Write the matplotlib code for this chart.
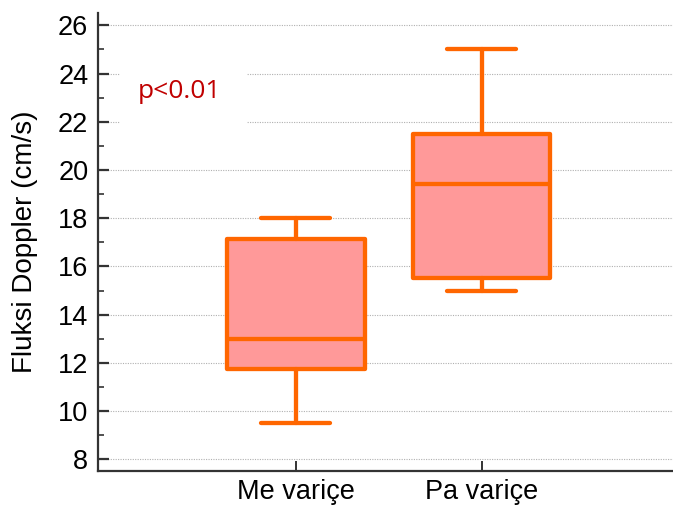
import matplotlib
matplotlib.use('Agg')
import matplotlib.pyplot as plt
from matplotlib.patches import Rectangle
from matplotlib.ticker import MultipleLocator

plt.rcParams['font.family'] = ['Liberation Sans', 'DejaVu Sans']

# 箱线图统计值
groups = ['Me variçe', 'Pa variçe']
whislo = [9.5, 15.0]
q1 = [11.75, 15.5]
med = [13.0, 19.4]
q3 = [17.15, 21.5]
whishi = [18.0, 25.0]

C_EDGE = '#ff6600'
C_FILL = '#ff9999'
C_AXIS = '#333333'

fig = plt.figure(figsize=(6.73, 5.12), dpi=100)
ax = fig.add_axes([98 / 673, 0.0807, 1 - 98 / 673, 0.9746 - 0.0807])

stats = [dict(label=g, whislo=lo, q1=a, med=m, q3=b, whishi=hi, fliers=[])
         for g, lo, a, m, b, hi in zip(groups, whislo, q1, med, q3, whishi)]

lw = 3.1
line = dict(color=C_EDGE, linewidth=lw, solid_capstyle='round')
ax.bxp(stats, positions=[1, 2], widths=0.74, capwidths=0.37, patch_artist=True,
       showfliers=False,
       boxprops=dict(facecolor=C_FILL, edgecolor=C_EDGE, linewidth=lw,
                     joinstyle='round'),
       medianprops=dict(color=C_EDGE, linewidth=lw),
       whiskerprops=line, capprops=line, zorder=2)

ax.set_xlim(-0.065, 3.03)
ax.set_ylim(7.53, 26.51)
ax.yaxis.set_major_locator(MultipleLocator(2))
ax.yaxis.set_minor_locator(MultipleLocator(1))
ax.set_xticks([1, 2])
ax.set_xticklabels(groups)

ax.set_axisbelow(True)
ax.grid(axis='y', which='major', linestyle=(0, (1, 1.2)), color='#b0b0b0', linewidth=0.8)

for s in ['top', 'right']:
    ax.spines[s].set_visible(False)
for s in ['left', 'bottom']:
    ax.spines[s].set_color(C_AXIS)
    ax.spines[s].set_linewidth(1.6)

ax.tick_params(axis='y', which='major', direction='in', length=8, width=1.6,
               color=C_AXIS, labelsize=19.5, pad=7)
ax.tick_params(axis='y', which='minor', direction='in', length=4.5, width=1.2,
               color=C_AXIS)
ax.tick_params(axis='x', which='major', direction='in', length=7, width=1.4,
               color=C_AXIS, labelsize=19.5, pad=6)
ax.set_ylabel('Fluksi Doppler (cm/s)', fontsize=20, labelpad=14)

# p值标注（白底遮住网格线）
ax.add_patch(Rectangle((0.054, 21.8), 0.683, 2.4, facecolor='white',
                       edgecolor='none', zorder=1))
ax.text(0.376, 23.27, 'p<0.01', ha='center', va='center', fontsize=19,
        color='#c00000', family=['Open Sans', 'DejaVu Sans'], zorder=3)

fig.savefig('out.png', dpi=100, facecolor='white')
